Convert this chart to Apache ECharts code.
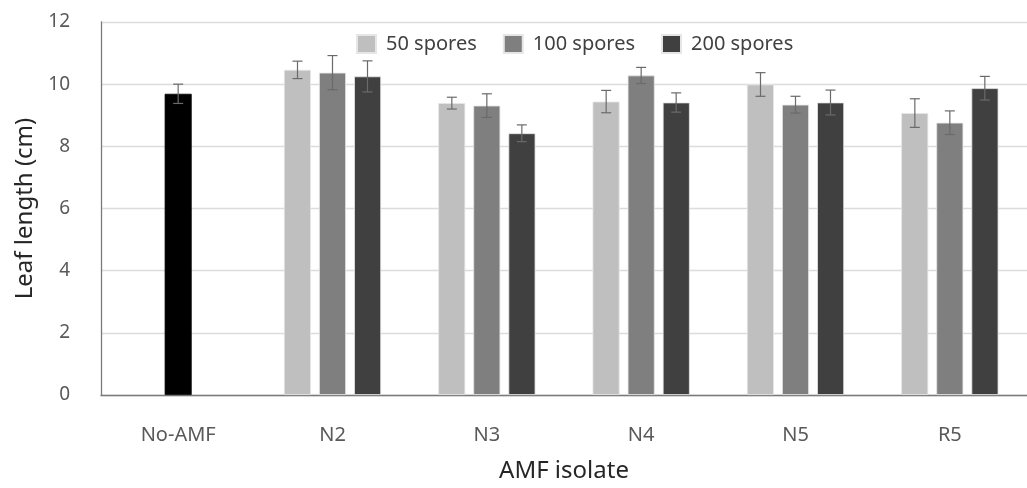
<!DOCTYPE html>
<html>
<head>
<meta charset="utf-8">
<script src="https://cdn.jsdelivr.net/npm/echarts@6/dist/echarts.min.js"></script>
<style>html,body{margin:0;padding:0;background:#fff;}#c{width:1027px;height:488px;}</style>
</head>
<body>
<div id="c"></div>
<script>
const categories = ['No-AMF', 'N2', 'N3', 'N4', 'N5', 'R5'];
const seriesNames = ['50 spores', '100 spores', '200 spores'];
const spores50 = [null, 10.46, 9.39, 9.44, 9.99, 9.07];
const spores100 = [9.69, 10.37, 9.31, 10.28, 9.34, 8.76];
const spores200 = [null, 10.25, 8.42, 9.41, 9.41, 9.87];
const err50 = [null, 0.28, 0.19, 0.36, 0.38, 0.46];
const err100 = [0.31, 0.55, 0.38, 0.26, 0.27, 0.38];
const err200 = [null, 0.50, 0.27, 0.31, 0.40, 0.38];
const yTicks = [0, 2, 4, 6, 8, 10, 12];

const colors = ['#bfbfbf', '#7f7f7f', '#404040'];
const FONT = 'Noto Sans';
const BAR_W = 27;
const STRIDE = 35;

const values = [spores50, spores100, spores200];
const errs = [err50, err100, err200];

function barData(s) {
  return values[s].map((v, i) => {
    if (v === null) return '-';
    if (s === 1 && i === 0) return { value: v, itemStyle: { color: '#000000', borderColor: '#000000' } };
    return v;
  });
}

function errData(s) {
  const out = [];
  values[s].forEach((v, i) => {
    if (v !== null) out.push([i, v - errs[s][i], v + errs[s][i]]);
  });
  return out;
}

function makeErr(s) {
  const offset = (s - 1) * STRIDE;
  return {
    type: 'custom',
    name: seriesNames[s] + ' err',
    data: errData(s),
    z: 10,
    silent: true,
    encode: { x: 0, y: [1, 2] },
    renderItem: function (params, api) {
      const lo = api.coord([api.value(0), api.value(1)]);
      const hi = api.coord([api.value(0), api.value(2)]);
      const x = lo[0] + offset;
      const hw = 5;
      const st = { stroke: '#6a6a6a', lineWidth: 1.2 };
      return {
        type: 'group',
        children: [
          { type: 'line', shape: { x1: x, y1: lo[1], x2: x, y2: hi[1] }, style: st },
          { type: 'line', shape: { x1: x - hw, y1: lo[1], x2: x + hw, y2: lo[1] }, style: st },
          { type: 'line', shape: { x1: x - hw, y1: hi[1], x2: x + hw, y2: hi[1] }, style: st }
        ]
      };
    }
  };
}

const chart = echarts.init(document.getElementById('c'));
chart.setOption({
  animation: false,
  backgroundColor: '#ffffff',
  textStyle: { fontFamily: FONT },
  legend: {
    data: seriesNames,
    top: 29,
    left: 351,
    icon: 'rect',
    itemWidth: 19,
    itemHeight: 18,
    itemGap: 26,
    textStyle: { fontFamily: FONT, fontSize: 20, color: '#404040', padding: [0, 0, 0, 5] }
  },
  grid: { left: 101, right: -9, top: 22, bottom: 90, containLabel: false },
  xAxis: {
    type: 'category',
    data: categories,
    name: 'AMF isolate',
    nameLocation: 'middle',
    nameGap: 64,
    nameTextStyle: { fontFamily: FONT, fontSize: 24, color: '#262626' },
    axisLine: { show: true, lineStyle: { color: '#7a7a7a', width: 1.3 } },
    axisTick: { show: false },
    axisLabel: { fontFamily: FONT, fontSize: 20, color: '#595959', margin: 30 }
  },
  yAxis: {
    type: 'value',
    min: 0,
    max: 12,
    interval: 2,
    name: 'Leaf length (cm)',
    nameLocation: 'middle',
    nameGap: 60,
    nameTextStyle: { fontFamily: FONT, fontSize: 24, color: '#262626' },
    axisLine: { show: true, lineStyle: { color: '#7a7a7a', width: 1.3 } },
    axisTick: { show: false },
    axisLabel: {
      fontFamily: FONT, fontSize: 19, color: '#595959', margin: 31,
      formatter: function (v) { return yTicks.indexOf(v) >= 0 ? String(v) : ''; }
    },
    splitLine: { show: true, lineStyle: { color: '#dcdcdc', width: 1.3 } }
  },
  series: [0, 1, 2].map(s => ({
    type: 'bar',
    name: seriesNames[s],
    data: barData(s),
    barWidth: BAR_W,
    barGap: '30%',
    itemStyle: { color: colors[s], borderColor: '#e6e6e6', borderWidth: 0.8 }
  })).concat([0, 1, 2].map(makeErr))
});
</script>
</body>
</html>
